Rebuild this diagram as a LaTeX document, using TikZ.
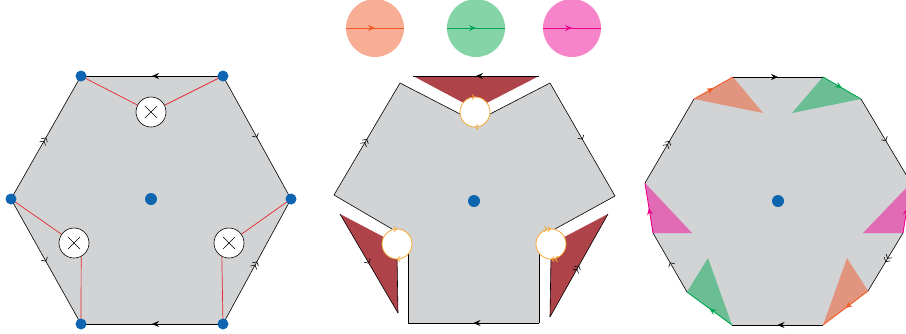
\documentclass[tikz,border=0pt]{standalone}
\usetikzlibrary{arrows.meta,decorations.markings}
\definecolor{cgray}{HTML}{D1D3D4}
\definecolor{dotblue}{HTML}{0E65B1}
\definecolor{cutred}{HTML}{E8262A}
\definecolor{wedgered}{HTML}{AF434A}
\definecolor{rimorange}{HTML}{F7A937}
\definecolor{aline}{HTML}{F15A24}
\definecolor{afill}{HTML}{F8AE95}
\definecolor{bline}{HTML}{00A651}
\definecolor{bfill}{HTML}{84D4A8}
\definecolor{cline}{HTML}{EC008C}
\definecolor{cfill}{HTML}{F584C8}
\definecolor{awedge}{HTML}{E2957E}
\definecolor{bwedge}{HTML}{6BBE93}
\definecolor{cwedge}{HTML}{E06BB4}
\tikzset{
  mk/.style={postaction={decorate,decoration={markings,mark=at position 0.5 with {\arrow{#1}}}}},
  stl/.style={mk={Stealth[length=7pt,width=6pt,inset=2.5pt]}},
  barb/.style={mk={Straight Barb[length=3pt,width=7pt]}},
  dbarb/.style={mk={Straight Barb[length=3pt,width=7pt] Straight Barb[length=3pt,width=7pt]}},
  xmark/.style={circle,draw,fill=white,minimum size=30pt,inner sep=0pt,line width=0.6pt,
    path picture={\draw[line width=0.5pt] ([shift={(-6pt,-6pt)}]path picture bounding box.center) -- ([shift={(6pt,6pt)}]path picture bounding box.center);
      \draw[line width=0.5pt] ([shift={(-6pt,6pt)}]path picture bounding box.center) -- ([shift={(6pt,-6pt)}]path picture bounding box.center);}},
  hole/.style={fill=white,draw=rimorange,line width=0.8pt},
  rimmk/.style={postaction={decorate,decoration={markings,
    mark=at position 0.25 with {\arrow{#1}},mark=at position 0.75 with {\arrow{#1}}}}},
  rim/.style={line width=0.9pt},
}

\begin{document}
\begin{tikzpicture}[x=1pt,y=-1pt,line width=0.6pt]
    \useasboundingbox (0,0) rectangle (906,333);
    % three colours
    \fill[afill] (375,28) circle (29);
    \draw[aline,line width=1pt,stl] (346,28) -- (404,28);
    \fill[bfill] (476,28) circle (29);
    \draw[bline,line width=1pt,stl] (447,28) -- (505,28);
    \fill[cfill] (572,28) circle (29);
    \draw[cline,line width=1pt,stl] (543,28) -- (601,28);
    % left hexagon
    \coordinate (a1) at (81,76);
    \coordinate (a2) at (223,76);
    \coordinate (a3) at (291,199);
    \coordinate (a4) at (223,324);
    \coordinate (a5) at (81,324);
    \coordinate (a6) at (11,199);
    \fill[cgray] (a1) -- (a2) -- (a3) -- (a4) -- (a5) -- (a6) -- cycle;
    \draw[stl] (a2) -- (a1);
    \draw[barb] (a2) -- (a3);
    \draw[dbarb] (a4) -- (a3);
    \draw[stl] (a4) -- (a5);
    \draw[barb] (a6) -- (a5);
    \draw[dbarb] (a6) -- (a1);
    \node[xmark] (xt) at (151,112) {};
    \node[xmark] (xl) at (74,243) {};
    \node[xmark] (xr) at (229,243) {};
    \draw[cutred,line width=0.7pt] (a1) -- (xt) -- (a2);
    \draw[cutred,line width=0.7pt] (a6) -- (xl);
    \draw[cutred,line width=0.7pt] (xl.-62) -- (a5);
    \draw[cutred,line width=0.7pt] (a3) -- (xr);
    \draw[cutred,line width=0.7pt] (xr.-118) -- (a4);
    \foreach \p in {a1,a2,a3,a4,a5,a6} \fill[dotblue] (\p) circle (5.5);
    \fill[dotblue] (151,199) circle (6);
    % middle, cut open
    \fill[wedgered] (413,76) -- (539,76) -- (475,109) -- cycle;
    \draw[stl] (539,76) -- (413,76);
    \fill[wedgered] (340,214) -- (398,313) -- (397,244) -- cycle;
    \draw[barb] (340,214) -- (398,313);
    \draw (398,313) -- (397,256);
    \fill[wedgered] (608,214) -- (550,317) -- (551,244) -- cycle;
    \draw[dbarb] (550,317) -- (608,214);
    \draw (550,317) -- (551,256);
    \fill[cgray] (400,83) -- (460,114) -- (475,112) -- (490,114) -- (550,83) -- (615,196) -- (555,229)
        -- (551,244) -- (539,253) -- (539,323) -- (408,323) -- (408,254) -- (397,244) -- (392,229) -- (334,195) -- cycle;
    \draw[dbarb] (334,195) -- (400,83);
    \draw (400,83) -- (460,114);
    \draw (490,114) -- (550,83);
    \draw[barb] (550,83) -- (615,196);
    \draw (615,196) -- (555,229);
    \draw (539,253) -- (539,323);
    \draw[stl] (539,323) -- (408,323);
    \draw (408,323) -- (408,254);
    \draw (392,229) -- (334,195);
    \draw[hole,rimmk={Straight Barb[length=2.5pt,width=5pt]}] (475,112) circle (15);
    \draw[hole,rimmk={Straight Barb[length=2.5pt,width=5pt]}] (397,244) circle (15);
    \draw[hole,rimmk={Straight Barb[length=2.5pt,width=5pt] Straight Barb[length=2.5pt,width=5pt]}] (551,244) circle (15);
    \fill[dotblue] (474,201) circle (6);
    % right, corners cut
    \coordinate (b1) at (694,99);
    \coordinate (b2) at (733,77);
    \coordinate (b3) at (823,77);
    \coordinate (b4) at (861,99);
    \coordinate (b5) at (911,183);
    \coordinate (b6) at (903,233);
    \coordinate (b7) at (868,291);
    \coordinate (b8) at (823,325);
    \coordinate (b9) at (732,325);
    \coordinate (b10) at (687,292);
    \coordinate (b11) at (653,233);
    \coordinate (b12) at (645,183);
    \fill[cgray] (b1) -- (b2) -- (b3) -- (b4) -- (b5) -- (b6) -- (b7) -- (b8) -- (b9) -- (b10) -- (b11) -- (b12) -- cycle;
    \fill[awedge] (b1) -- (b2) -- (763,113) -- cycle;
    \fill[bwedge] (b3) -- (b4) -- (792,113) -- cycle;
    \fill[cwedge] (b12) -- (b11) -- (692,233) -- cycle;
    \fill[cwedge] (b5) -- (b6) -- (863,233) -- cycle;
    \fill[bwedge] (b10) -- (b9) -- (708,258) -- cycle;
    \fill[awedge] (b8) -- (b7) -- (847,258) -- cycle;
    \draw[stl] (b2) -- (b3);
    \draw[barb] (b4) -- (b5);
    \draw[dbarb] (b6) -- (b7);
    \draw[stl] (b8) -- (b9);
    \draw[barb] (b10) -- (b11);
    \draw[dbarb] (b12) -- (b1);
    \draw[aline,rim,stl] (b1) -- (b2);
    \draw[bline,rim,stl] (b3) -- (b4);
    \draw[cline,rim,stl] (b6) -- (b5);
    \draw[aline,rim,stl] (b7) -- (b8);
    \draw[bline,rim,stl] (b9) -- (b10);
    \draw[cline,rim,stl] (b11) -- (b12);
    \fill[dotblue] (778,201) circle (6);
\end{tikzpicture}
\end{document}
